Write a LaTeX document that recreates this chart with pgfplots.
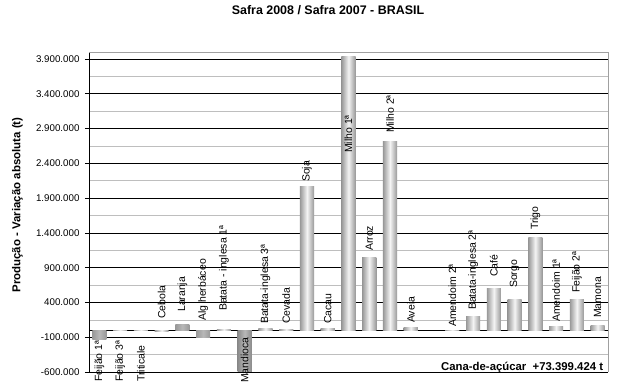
\documentclass[border=0pt]{standalone}
\usepackage{fontspec}
\setmainfont{Liberation Sans}
\usepackage{pgfplots}
\pgfplotsset{compat=1.18}
\usepackage{pgfplotstable}

\definecolor{barEdge}{HTML}{989898}
\definecolor{barMid}{HTML}{F4F4F4}
\definecolor{darkEdge}{HTML}{8A8A8A}
\definecolor{darkMid}{HTML}{B8B8B8}
\definecolor{minorGrid}{HTML}{BEBEBE}
\definecolor{frameGray}{HTML}{A0A0A0}

\tikzset{
  barstyle/.style={left color=barEdge, right color=barEdge, middle color=barMid},
  barstyle7/.style={left color=darkEdge, right color=darkEdge, middle color=darkMid},
  barstyle0/.style={left color=barEdge, right color=barEdge, middle color=darkMid},
  barstyle4/.style={left color=barEdge, right color=barEdge, middle color=darkMid},
  barstyle5/.style={left color=barEdge, right color=barEdge, middle color=darkMid},
}

\pgfplotstableread[col sep=comma]{
x,v
0,-140000
1,-5000
2,-3000
3,-25000
4,80000
5,-105000
6,10000
7,-600000
8,30000
9,15000
10,2064000
11,30000
12,3931000
13,1053000
14,2710000
15,40000
17,3000
18,200000
19,607000
20,435000
21,1330000
22,55000
23,435000
24,70000
}\bars

\pgfplotstableread[col sep=comma]{
x,ly,lab
0,-743800,Feijão 1ª
1,-743800,Feijão 3ª
2,-743800,Triticale
3,161900,Cebola
4,262500,Laranja
5,133100,Alg herbáceo
6,276900,Batata - inglesa 1ª
7,-758100,Mandioca
8,90000,Batata-inglesa 3ª
9,90000,Cevada
10,2131000,Soja
11,90000,Cacau
12,2548000,Milho 1ª
13,1139000,Arroz
14,2836000,Milho 2ª
15,104400,Aveia
17,46900,Amendoim 2ª
18,291100,Batata-inglesa 2ª
19,765600,Café
20,607500,Sorgo
21,1441000,Trigo
22,118700,Amendoim 1ª
23,536000,Feijão 2ª
24,176300,Mamona
}\labels

\begin{document}
\begin{tikzpicture}
\useasboundingbox (0,0) rectangle (617bp,392bp);
\begin{axis}[
  at={(89bp,20bp)}, anchor=south west,
  scale only axis, width=519bp, height=320bp,
  xmin=-0.5, xmax=24.5, ymin=-600000, ymax=4000000,
  enlargelimits=false,
  axis x line*=bottom, axis y line*=left,
  x axis line style={black, line width=0.6bp},
  y axis line style={black, line width=0.6bp},
  xtick=\empty,
  ytick={-600000,-100000,400000,900000,1400000,1900000,2400000,2900000,3400000,3900000},
  minor y tick num=1,
  ymajorgrids, yminorgrids,
  major grid style={black, line width=0.6bp},
  minor grid style={minorGrid, line width=0.6bp},
  tick align=outside, major tick length=4bp, minor tick length=0pt,
  tick style={black, line width=0.6bp},
  scaled y ticks=false,
  yticklabel style={xshift=-2bp, /pgf/number format/.cd, fixed, 1000 sep={.}, assume math mode=true},
  tick label style={font=\fontsize{9.8}{11}\selectfont},
  extra y ticks={0}, extra y tick labels={},
  extra y tick style={grid=major, major grid style={black, line width=0.6bp}, major tick length=0pt},
  title={Safra 2008 / Safra 2007 - BRASIL},
  title style={at={(axis description cs:0.4605,1)}, anchor=center, yshift=36bp, font=\bfseries\fontsize{12.5}{14}\selectfont},
  ylabel={Produção - Variação absoluta (t)},
  ylabel style={at={(axis description cs:-0.1378,0.522)}, anchor=center, font=\bfseries\fontsize{11.5}{13}\selectfont},
  clip=false,
]
\pgfplotsinvokeforeach{0,1,2,3,4,5,6,7,8,9,10,11,12,13,14,15,17,18,19,20,21,22,23,24}{
  \addplot[ybar, bar width=0.68, draw=none, barstyle, /tikz/barstyle#1/.try,
    restrict x to domain=#1:#1]
    table[x=x, y=v] {\bars};
}
\addplot[draw=none, mark=none, nodes near coords, point meta=explicit symbolic,
  nodes near coords style={rotate=90, anchor=west, inner sep=0pt, font=\fontsize{10.5}{12}\selectfont}]
  table[x=x, y=ly, meta=lab] {\labels};
\draw[frameGray, line width=0.6bp] (rel axis cs:0,1) -- (rel axis cs:1,1) -- (rel axis cs:1,0);
\node[anchor=east, inner sep=0pt, font=\bfseries\fontsize{11.4}{13}\selectfont] at (rel axis cs:0.991,0.0125) {Cana-de-açúcar\ \ +73.399.424 t};
\end{axis}
\end{tikzpicture}
\end{document}
